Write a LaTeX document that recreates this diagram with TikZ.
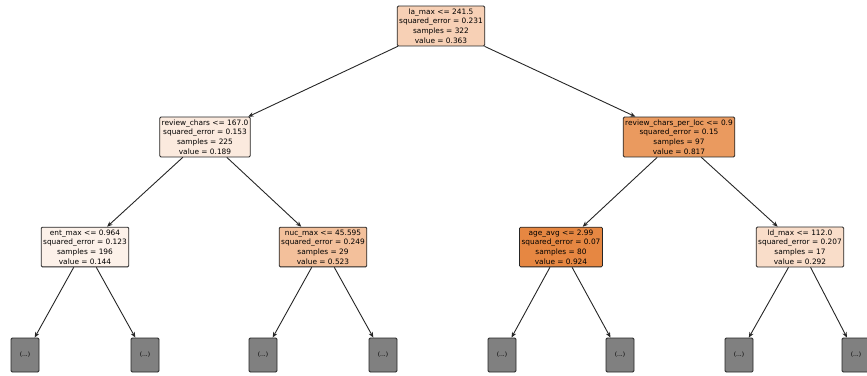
\documentclass[tikz,border=0pt]{standalone}
\usepackage{fontspec}
\setmainfont{DejaVu Sans}
\usetikzlibrary{arrows.meta}
\begin{document}
\begin{tikzpicture}[x=1pt,y=-1pt,
  tree/.style={draw=black!85, line width=0.8pt, rounded corners=1.2pt, align=center,
    font=\fontsize{7.4}{9.7}\selectfont, inner xsep=2pt, inner ysep=2.5pt},
  leafbox/.style={draw=black!85, line width=0.8pt, rounded corners=1.2pt, fill=black!50,
    minimum width=28pt, minimum height=34pt, font=\fontsize{6}{7}\selectfont, inner sep=0pt},
  edge/.style={draw=black!85, line width=0.9pt, -{Stealth[length=5.5pt,width=4.5pt]}}]
\useasboundingbox (0,0) rectangle (867,375);
\definecolor{c0}{HTML}{F7D0B5}
\definecolor{c1}{HTML}{FBEADE}
\definecolor{c2}{HTML}{EA9A5F}
\definecolor{c3}{HTML}{FCF1E9}
\definecolor{c4}{HTML}{F3C09B}
\definecolor{c5}{HTML}{E68742}
\definecolor{c6}{HTML}{F9DDC9}
\node[tree, fill=c0] (root) at (441,26) {la\_max <= 241.5\\squared\_error = 0.231\\samples = 322\\value = 0.363};
\node[tree, fill=c1] (l) at (205,137) {review\_chars <= 167.0\\squared\_error = 0.153\\samples = 225\\value = 0.189};
\node[tree, fill=c2] (r) at (679,137) {review\_chars\_per\_loc <= 0.9\\squared\_error = 0.15\\samples = 97\\value = 0.817};
\node[tree, fill=c3] (ll) at (85,247) {ent\_max <= 0.964\\squared\_error = 0.123\\samples = 196\\value = 0.144};
\node[tree, fill=c4] (lr) at (323,247) {nuc\_max <= 45.595\\squared\_error = 0.249\\samples = 29\\value = 0.523};
\node[tree, fill=c5] (rl) at (561,247) {age\_avg <= 2.99\\squared\_error = 0.07\\samples = 80\\value = 0.924};
\node[tree, fill=c6] (rr) at (800,247) {ld\_max <= 112.0\\squared\_error = 0.207\\samples = 17\\value = 0.292};
\foreach \n/\x in {a/25,b/145,c/263,d/383,e/502,f/620,g/739,h/856}
  \node[leafbox] (\n) at (\x,355) {(...)};
\draw[edge] (root) -- (l);
\draw[edge] (root) -- (r);
\draw[edge] (l) -- (ll);
\draw[edge] (l) -- (lr);
\draw[edge] (r) -- (rl);
\draw[edge] (r) -- (rr);
\draw[edge] (ll) -- (a);
\draw[edge] (ll) -- (b);
\draw[edge] (lr) -- (c);
\draw[edge] (lr) -- (d);
\draw[edge] (rl) -- (e);
\draw[edge] (rl) -- (f);
\draw[edge] (rr) -- (g);
\draw[edge] (rr) -- (h);
\end{tikzpicture}
\end{document}
